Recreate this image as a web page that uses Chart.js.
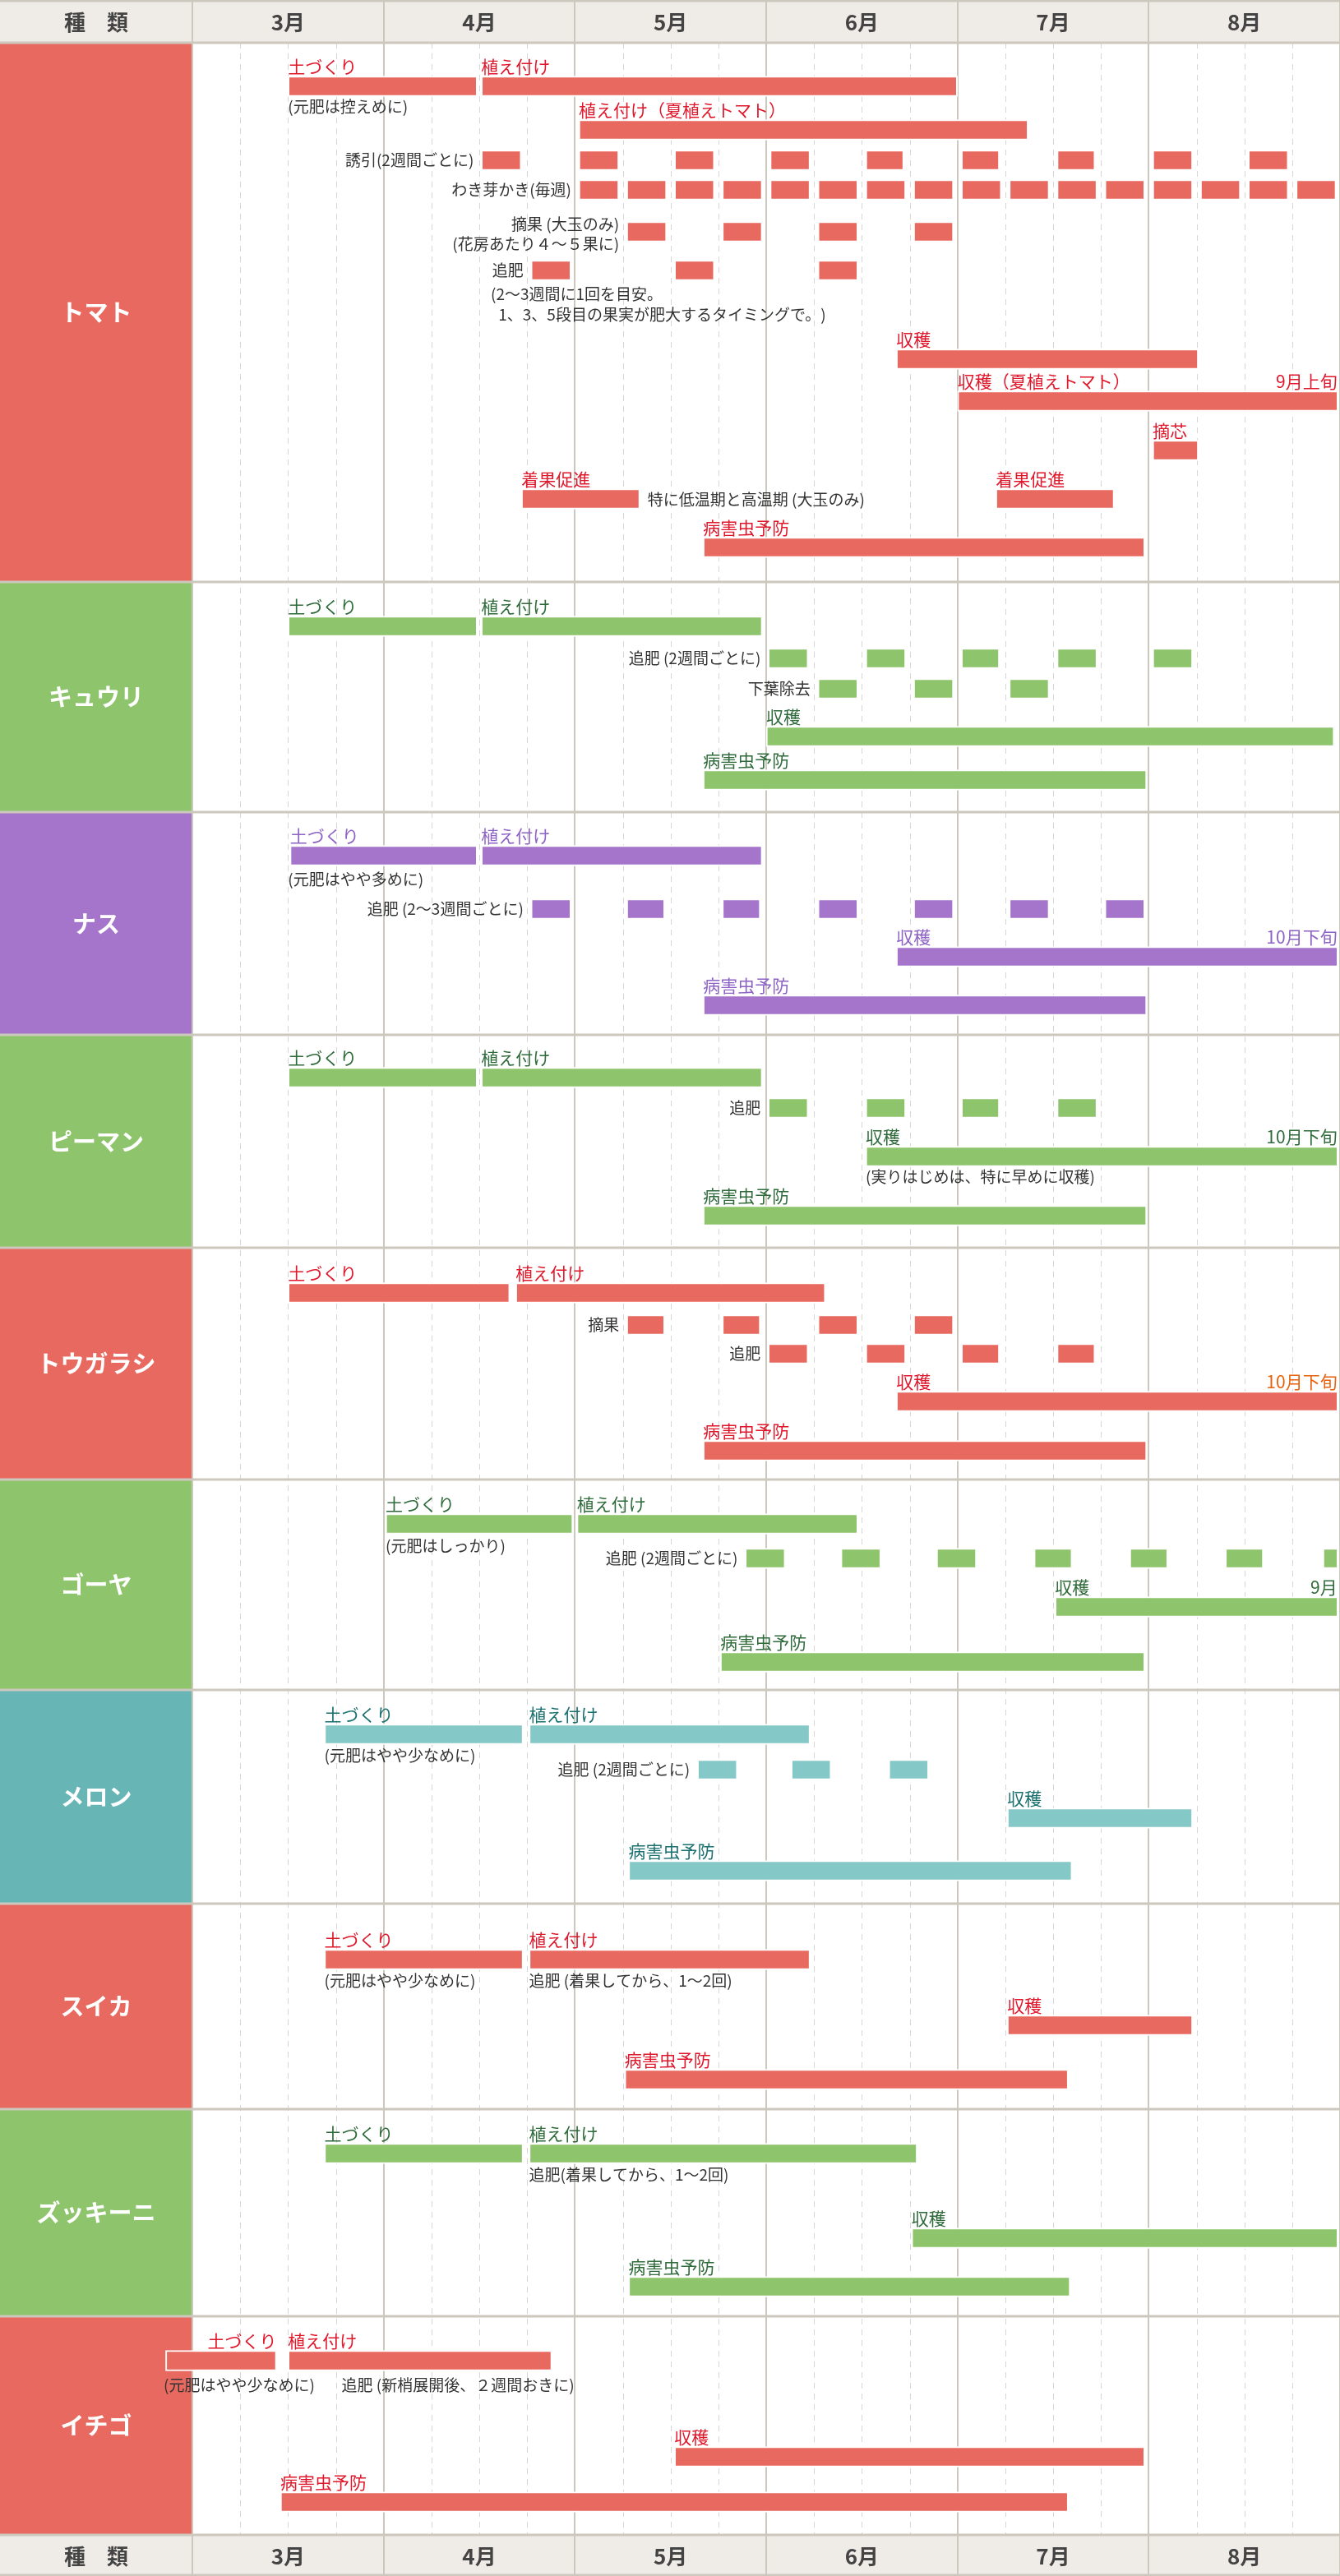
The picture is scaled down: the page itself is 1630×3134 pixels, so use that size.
<!DOCTYPE html>
<html>
<head>
<meta charset="utf-8">
<script src="https://cdn.jsdelivr.net/npm/chart.js@4.4.1/dist/chart.umd.min.js"></script>
<style>
  html, body { margin: 0; padding: 0; background: #ffffff; }
  #wrap { width: 1630px; height: 3134px; }
</style>
</head>
<body>
<div id="wrap"><canvas id="calendar" width="1630" height="3134"></canvas></div>
<script>
// Months shown as columns (x values: 3 = start of March ... 9 = end of August)
const months = ['3月', '4月', '5月', '6月', '7月', '8月'];
const monthValues = [3, 4, 5, 6, 7, 8, 9];
const headerLabel = '種　類';

const crops = ['トマト', 'キュウリ', 'ナス', 'ピーマン', 'トウガラシ', 'ゴーヤ', 'メロン', 'スイカ', 'ズッキーニ', 'イチゴ'];

// tasks: [row, start month, end month, title, title x (optional)]
const tomatoTasks = [
    [0, 3.5, 4.49, '土づくり'], [0, 4.51, 7.0, '植え付け'],
    [1, 5.02, 7.37, '植え付け（夏植えトマト）'],
    [2, 4.51, 4.72], [2, 5.02, 5.23], [2, 5.52, 5.73], [2, 6.02, 6.23], [2, 6.52, 6.72],
    [2, 7.02, 7.22], [2, 7.52, 7.72], [2, 8.02, 8.23], [2, 8.52, 8.73],
    [3, 5.02, 5.23], [3, 5.27, 5.48], [3, 5.52, 5.73], [3, 5.77, 5.98], [3, 6.02, 6.23],
    [3, 6.27, 6.48], [3, 6.52, 6.73], [3, 6.77, 6.98], [3, 7.02, 7.23], [3, 7.27, 7.48],
    [3, 7.52, 7.73], [3, 7.77, 7.98], [3, 8.02, 8.23], [3, 8.27, 8.48], [3, 8.52, 8.73], [3, 8.77, 8.98],
    [4, 5.27, 5.48], [4, 5.77, 5.98], [4, 6.27, 6.48], [4, 6.77, 6.98],
    [5, 4.77, 4.98], [5, 5.52, 5.73], [5, 6.27, 6.48],
    [6, 6.68, 8.26, '収穫'],
    [7, 7.0, 8.99, '収穫（夏植えトマト）'],
    [8, 8.02, 8.26, '摘芯'],
    [9, 4.72, 5.34, '着果促進'], [9, 7.2, 7.82, '着果促進'],
    [10, 5.67, 7.98, '病害虫予防']
];
const cucumberTasks = [
    [0, 3.5, 4.49, '土づくり'], [0, 4.51, 5.98, '植え付け'],
    [1, 6.01, 6.22], [1, 6.52, 6.73], [1, 7.02, 7.22], [1, 7.52, 7.73], [1, 8.02, 8.23],
    [2, 6.27, 6.48], [2, 6.77, 6.98], [2, 7.27, 7.48],
    [3, 6.0, 8.97, '収穫'],
    [4, 5.67, 7.99, '病害虫予防']
];
const nasuTasks = [
    [0, 3.51, 4.49, '土づくり'], [0, 4.51, 5.98, '植え付け'],
    [1, 4.77, 4.98], [1, 5.27, 5.47], [1, 5.77, 5.97], [1, 6.27, 6.48],
    [1, 6.77, 6.98], [1, 7.27, 7.48], [1, 7.77, 7.98],
    [2, 6.68, 8.99, '収穫'],
    [3, 5.67, 7.99, '病害虫予防']
];
const pimanTasks = [
    [0, 3.5, 4.49, '土づくり'], [0, 4.51, 5.98, '植え付け'],
    [1, 6.01, 6.22], [1, 6.52, 6.73], [1, 7.02, 7.22], [1, 7.52, 7.73],
    [2, 6.52, 8.99, '収穫'],
    [3, 5.67, 7.99, '病害虫予防']
];
const togarashiTasks = [
    [0, 3.5, 4.66, '土づくり'], [0, 4.69, 6.31, '植え付け'],
    [1, 5.27, 5.47], [1, 5.77, 5.97], [1, 6.27, 6.48], [1, 6.77, 6.98],
    [2, 6.01, 6.22], [2, 6.52, 6.73], [2, 7.02, 7.22], [2, 7.52, 7.72],
    [3, 6.68, 8.99, '収穫'],
    [4, 5.67, 7.99, '病害虫予防']
];
const goyaTasks = [
    [0, 4.01, 4.99, '土づくり'], [0, 5.01, 6.48, '植え付け'],
    [1, 5.89, 6.1], [1, 6.39, 6.6], [1, 6.89, 7.1], [1, 7.4, 7.6],
    [1, 7.9, 8.1], [1, 8.4, 8.6], [1, 8.91, 8.99],
    [2, 7.51, 8.99, '収穫'],
    [3, 5.76, 7.98, '病害虫予防']
];
const melonTasks = [
    [0, 3.69, 4.73, '土づくり'], [0, 4.76, 6.23, '植え付け'],
    [1, 5.64, 5.85], [1, 6.13, 6.34], [1, 6.64, 6.85],
    [2, 7.26, 8.23, '収穫'],
    [3, 5.28, 7.6, '病害虫予防']
];
const suikaTasks = [
    [0, 3.69, 4.73, '土づくり'], [0, 4.76, 6.23, '植え付け'],
    [1, 7.26, 8.23, '収穫'],
    [2, 5.26, 7.58, '病害虫予防']
];
const zucchiniTasks = [
    [0, 3.69, 4.73, '土づくり'], [0, 4.76, 6.79, '植え付け'],
    [1, 6.76, 8.99, '収穫'],
    [2, 5.28, 7.59, '病害虫予防']
];
const ichigoTasks = [
    [0, 2.86, 3.44, '土づくり', 3.08], [0, 3.5, 4.88, '植え付け'],
    [1, 5.52, 7.98, '収穫'],
    [2, 3.46, 7.58, '病害虫予防']
];

// labels written left of a row: [row, text]
const tomatoSide = [[2, '誘引(2週間ごとに)'], [3, 'わき芽かき(毎週)'], [5, '追肥']];
const cucumberSide = [[1, '追肥 (2週間ごとに)'], [2, '下葉除去']];
const nasuSide = [[1, '追肥 (2～3週間ごとに)']];
const pimanSide = [[1, '追肥']];
const togarashiSide = [[1, '摘果'], [2, '追肥']];
const goyaSide = [[1, '追肥 (2週間ごとに)']];
const melonSide = [[1, '追肥 (2週間ごとに)']];

// labels at the right end of a bar: [row, text]
const tomatoEnd = [[7, '9月上旬']];
const nasuEnd = [[2, '10月下旬']];
const pimanEnd = [[2, '10月下旬']];
const togarashiEnd = [[3, '10月下旬']];
const goyaEnd = [[2, '9月']];

const cropTasks = [tomatoTasks, cucumberTasks, nasuTasks, pimanTasks, togarashiTasks,
    goyaTasks, melonTasks, suikaTasks, zucchiniTasks, ichigoTasks];
const cropSide = [tomatoSide, cucumberSide, nasuSide, pimanSide, togarashiSide, goyaSide, melonSide, [], [], []];
const cropEnd = [tomatoEnd, [], nasuEnd, pimanEnd, togarashiEnd, goyaEnd, [], [], [], []];

// ---- layout (canvas y of each row, section edges, free notes) ----
const sectionEdges = [52, 708, 988, 1259, 1518, 1800, 2056, 2316, 2566, 2818, 3084];
const rowCenters = [
    [105, 158, 195, 231, 282, 329, 437, 488, 548, 607, 666],
    [762, 801, 838, 896, 949],
    [1041, 1106, 1164, 1223],
    [1311, 1348, 1407, 1479],
    [1573, 1612, 1647, 1705, 1765],
    [1854, 1896, 1955, 2022],
    [2110, 2153, 2212, 2276],
    [2384, 2464, 2530],
    [2620, 2723, 2782],
    [2872, 2989, 3044]
];
// notes: [text, month x, y, align]
const notes = [
    ['(元肥は控えめに)', 3.5, 130, 'left'],
    ['摘果 (大玉のみ)', 5.27, 273, 'right'],
    ['(花房あたり４～５果に)', 5.27, 297, 'right'],
    ['(2～3週間に1回を目安。', 4.56, 358, 'left'],
    ['1、3、5段目の果実が肥大するタイミングで。)', 4.6, 383, 'left'],
    ['特に低温期と高温期 (大玉のみ)', 5.38, 608, 'left'],
    ['(元肥はやや多めに)', 3.5, 1070, 'left'],
    ['(実りはじめは、特に早めに収穫)', 6.52, 1432, 'left'],
    ['(元肥はしっかり)', 4.01, 1881, 'left'],
    ['(元肥はやや少なめに)', 3.69, 2136, 'left'],
    ['(元肥はやや少なめに)', 3.69, 2410, 'left'],
    ['追肥 (着果してから、1～2回)', 4.76, 2410, 'left'],
    ['追肥(着果してから、1～2回)', 4.76, 2646, 'left'],
    ['(元肥はやや少なめに)', 2.85, 2902, 'left'],
    ['追肥 (新梢展開後、２週間おきに)', 3.78, 2902, 'left']
];

// ---- styles ----
const FONT = '"Noto Sans CJK JP", "Noto Sans", sans-serif';
const cellColor = ['#e8695f', '#8ec46b', '#a575cb', '#8ec46b', '#e8695f', '#8ec46b', '#68b5b6', '#e8695f', '#8ec46b', '#e8695f'];
const barColor = ['#e8695f', '#8ec46b', '#a575cb', '#8ec46b', '#e8695f', '#8ec46b', '#84c9c7', '#e8695f', '#8ec46b', '#e8695f'];
const titleColor = ['#e0182c', '#2f6b3b', '#8d63c6', '#2f6b3b', '#e0182c', '#2f6b3b', '#1b7070', '#e0182c', '#2f6b3b', '#e0182c'];
const endColor = ['#e0182c', '#2f6b3b', '#8d63c6', '#2f6b3b', '#e8620e', '#2f6b3b', '#1b7070', '#e0182c', '#2f6b3b', '#e0182c'];
const lineGray = '#cdc8bd';

// build bar points
const barPoints = [];
cropTasks.forEach((tasks, i) => {
    tasks.forEach(t => {
        barPoints.push({ x: [t[1], t[2]], y: rowCenters[i][t[0]], c: i });
    });
});

const tablePlugin = {
    id: 'table',
    beforeDraw(chart) {
        const ctx = chart.ctx;
        const xs = chart.scales.x;
        const ys = chart.scales.y;
        const W = chart.width;
        const top = ys.getPixelForValue(sectionEdges[0]);
        const bottom = ys.getPixelForValue(sectionEdges[sectionEdges.length - 1]);
        const left = xs.getPixelForValue(monthValues[0]);
        ctx.save();
        ctx.fillStyle = '#ffffff';
        ctx.fillRect(0, 0, W, chart.height);

        // header and footer bands
        ctx.fillStyle = '#efebe6';
        ctx.fillRect(0, 0, W, top);
        ctx.fillRect(0, bottom, W, chart.height - bottom);

        // crop cells in the left column
        crops.forEach((name, i) => {
            const y0 = ys.getPixelForValue(sectionEdges[i]);
            const y1 = ys.getPixelForValue(sectionEdges[i + 1]);
            ctx.fillStyle = cellColor[i];
            ctx.fillRect(0, y0, left, y1 - y0);
            ctx.fillStyle = '#ffffff';
            ctx.font = 'bold 29px ' + FONT;
            ctx.textAlign = 'center';
            ctx.textBaseline = 'middle';
            ctx.fillText(name, left / 2, (y0 + y1) / 2);
        });

        // week grid (dashed) and month lines
        ctx.lineWidth = 1;
        ctx.strokeStyle = '#d6d6d6';
        ctx.setLineDash([7, 6]);
        for (let m = monthValues[0]; m < monthValues[monthValues.length - 1]; m++) {
            [0.25, 0.5, 0.75].forEach(q => {
                const px = Math.round(xs.getPixelForValue(m + q)) + 0.5;
                ctx.beginPath();
                ctx.moveTo(px, top);
                ctx.lineTo(px, bottom);
                ctx.stroke();
            });
        }
        ctx.setLineDash([]);
        ctx.strokeStyle = lineGray;
        ctx.lineWidth = 2;
        monthValues.forEach(m => {
            const px = Math.round(xs.getPixelForValue(m));
            ctx.beginPath();
            ctx.moveTo(px, 0);
            ctx.lineTo(px, chart.height);
            ctx.stroke();
        });

        // horizontal separators
        ctx.lineWidth = 3;
        [0].concat(sectionEdges).forEach(v => {
            const py = Math.round(ys.getPixelForValue(v)) + (v === 0 ? 1 : 0);
            ctx.beginPath();
            ctx.moveTo(0, py);
            ctx.lineTo(W, py);
            ctx.stroke();
        });
        const pyEnd = chart.height - 1;
        ctx.beginPath();
        ctx.moveTo(0, pyEnd);
        ctx.lineTo(W, pyEnd);
        ctx.stroke();

        // header / footer text
        ctx.fillStyle = '#444444';
        ctx.font = 'bold 26px ' + FONT;
        ctx.textAlign = 'center';
        ctx.textBaseline = 'middle';
        [top / 2, (bottom + chart.height) / 2].forEach(cy => {
            ctx.fillText(headerLabel, left / 2, cy + 1);
            months.forEach((label, k) => {
                const cx = (xs.getPixelForValue(monthValues[k]) + xs.getPixelForValue(monthValues[k + 1])) / 2;
                ctx.fillText(label, cx, cy + 1);
            });
        });
        ctx.restore();
    },
    afterDatasetsDraw(chart) {
        const ctx = chart.ctx;
        const xs = chart.scales.x;
        const ys = chart.scales.y;
        ctx.save();

        cropTasks.forEach((tasks, i) => {
            // titles above bars
            ctx.font = '21px ' + FONT;
            ctx.textBaseline = 'alphabetic';
            ctx.fillStyle = titleColor[i];
            ctx.textAlign = 'left';
            tasks.forEach(t => {
                if (!t[3]) return;
                const px = xs.getPixelForValue(t[4] !== undefined ? t[4] : t[1]);
                const py = ys.getPixelForValue(rowCenters[i][t[0]]) - 16;
                ctx.fillText(t[3], px, py);
            });
            // end labels
            ctx.fillStyle = endColor[i];
            ctx.textAlign = 'right';
            cropEnd[i].forEach(([row, text]) => {
                const last = tasks.filter(t => t[0] === row).pop();
                const px = xs.getPixelForValue(last[2]) - 1;
                const py = ys.getPixelForValue(rowCenters[i][row]) - 16;
                ctx.fillText(text, px, py);
            });
            // side labels
            ctx.font = '19px ' + FONT;
            ctx.fillStyle = '#333333';
            ctx.textBaseline = 'middle';
            cropSide[i].forEach(([row, text]) => {
                const first = tasks.find(t => t[0] === row);
                const px = xs.getPixelForValue(first[1]) - 9;
                const py = ys.getPixelForValue(rowCenters[i][row]);
                ctx.fillText(text, px, py);
            });
        });

        // free notes
        ctx.font = '19px ' + FONT;
        ctx.fillStyle = '#333333';
        ctx.textBaseline = 'middle';
        notes.forEach(([text, mx, y, align]) => {
            ctx.textAlign = align;
            const px = xs.getPixelForValue(mx) + (align === 'right' ? -9 : 0);
            ctx.fillText(text, px, ys.getPixelForValue(y));
        });
        ctx.restore();
    }
};

const ctx = document.getElementById('calendar').getContext('2d');
const calendarChart = new Chart(ctx, {
    type: 'bar',
    data: {
        datasets: [{
            data: barPoints,
            backgroundColor: c => barColor[c.raw ? c.raw.c : 0],
            borderColor: '#ffffff',
            borderWidth: 2,
            borderSkipped: false,
            barThickness: 25,
            clip: false
        }]
    },
    options: {
        indexAxis: 'y',
        responsive: false,
        animation: false,
        devicePixelRatio: 1,
        layout: { padding: { left: 234, right: 0, top: 0, bottom: 0 } },
        scales: {
            x: { type: 'linear', min: monthValues[0], max: monthValues[monthValues.length - 1], display: false },
            y: { type: 'linear', min: 0, max: 3134, reverse: true, offset: false, display: false }
        },
        plugins: {
            legend: { display: false },
            tooltip: { enabled: false }
        }
    },
    plugins: [tablePlugin]
});
</script>
</body>
</html>
